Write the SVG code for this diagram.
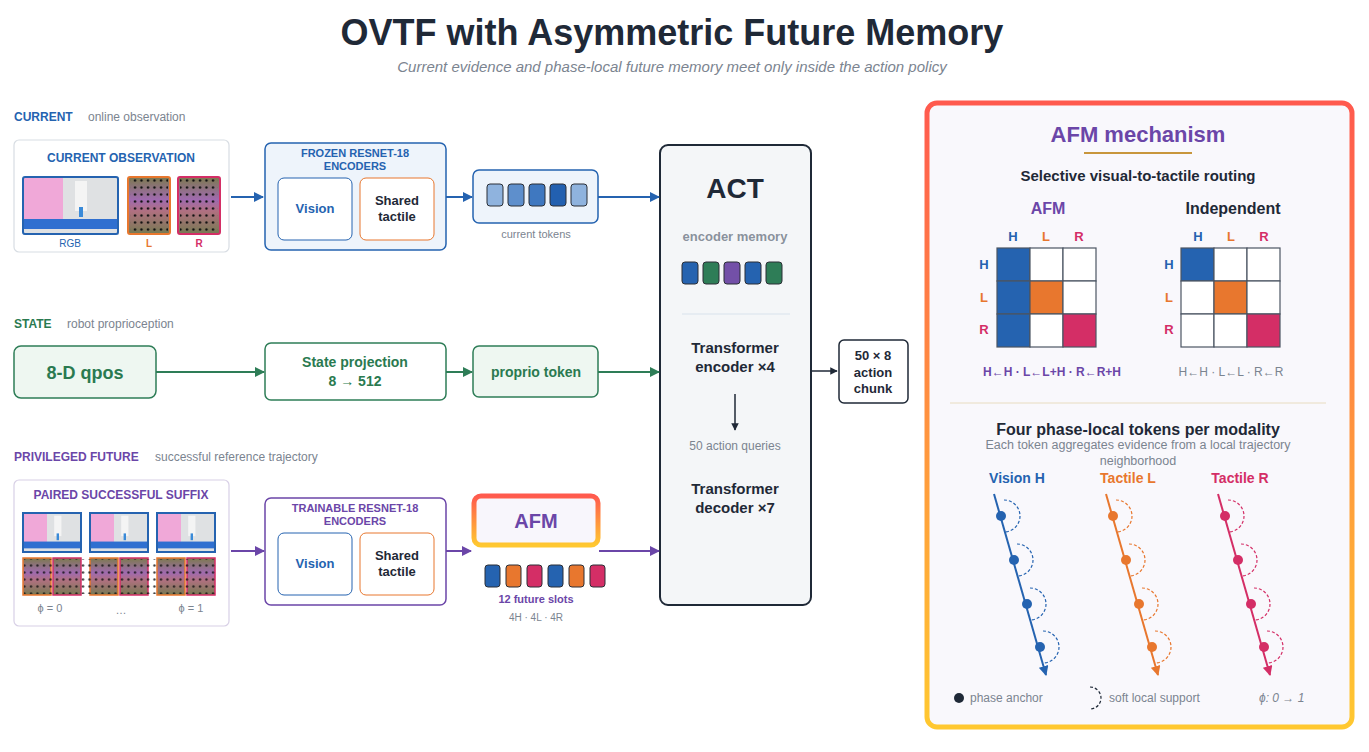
<svg xmlns="http://www.w3.org/2000/svg" width="1369" height="752" viewBox="0 0 1369 752">
<defs>
<style>
text{font-family:"Liberation Sans",Arial,sans-serif}
.b{font-weight:bold}
.blue{fill:#2563b0}.green{fill:#2a7a50}.purple{fill:#6b46a8}.orange{fill:#e8772e}.pink{fill:#d42e66}.gray{fill:#7b8490}.dark{fill:#1f2937}
.bl{stroke:#2563b0;stroke-width:2;fill:none}.gl{stroke:#2e7d57;stroke-width:2;fill:none}.pl{stroke:#6b46a8;stroke-width:2;fill:none}
.tok{stroke:#2b2f36;stroke-width:1}
.cell{stroke:#4b5563;stroke-width:1.2}
</style>
<marker id="ab" viewBox="0 0 10 10" refX="9" refY="5" markerWidth="5" markerHeight="5" orient="auto"><path d="M0,0L10,5L0,10z" fill="#2563b0"/></marker>
<marker id="ag" viewBox="0 0 10 10" refX="9" refY="5" markerWidth="5" markerHeight="5" orient="auto"><path d="M0,0L10,5L0,10z" fill="#2e7d57"/></marker>
<marker id="ap" viewBox="0 0 10 10" refX="9" refY="5" markerWidth="5" markerHeight="5" orient="auto"><path d="M0,0L10,5L0,10z" fill="#6b46a8"/></marker>
<marker id="ak" viewBox="0 0 10 10" refX="9" refY="5" markerWidth="5" markerHeight="5" orient="auto"><path d="M0,0L10,5L0,10z" fill="#1f2937"/></marker>
<marker id="to" viewBox="0 0 10 10" refX="9" refY="5" markerWidth="5" markerHeight="5" orient="auto"><path d="M0,0L10,5L0,10z" fill="#e8772e"/></marker>
<marker id="tp" viewBox="0 0 10 10" refX="9" refY="5" markerWidth="5" markerHeight="5" orient="auto"><path d="M0,0L10,5L0,10z" fill="#d42e66"/></marker>
<linearGradient id="tac" x1="0" y1="0" x2="0" y2="1"><stop offset="0" stop-color="#7c7a4e"/><stop offset="0.4" stop-color="#a06ab0"/><stop offset="0.6" stop-color="#b07080"/><stop offset="1" stop-color="#767a52"/></linearGradient>
<linearGradient id="fr" x1="0" y1="0" x2="0" y2="1"><stop offset="0" stop-color="#ff5a4e"/><stop offset="1" stop-color="#ffc830"/></linearGradient>
<pattern id="dots" width="6.5" height="7" patternUnits="userSpaceOnUse" x="2" y="2"><circle cx="3" cy="3.5" r="1.2" fill="#111"/></pattern>
<g id="rgb"><rect width="96" height="58" fill="#dfe1e3"/><rect x="0" y="0" width="40" height="44" fill="#f0a8d8"/><rect x="0" y="42" width="96" height="10" fill="#2f6fd0"/><rect x="52" y="4" width="12" height="30" fill="#f4f4f4"/><rect x="56" y="30" width="4" height="10" fill="#3a8ad8"/></g>
</defs>
<rect width="1369" height="752" fill="#ffffff"/>
<text x="672" y="45" text-anchor="middle" class="b dark" font-size="36">OVTF with Asymmetric Future Memory</text>
<text x="672" y="72" text-anchor="middle" class="gray" font-size="15" font-style="italic">Current evidence and phase-local future memory meet only inside the action policy</text>

<g id="current">
<text x="14" y="121" class="b blue" font-size="12">CURRENT</text><text x="88" y="121" class="gray" font-size="12">online observation</text>
<rect x="14" y="140" width="215" height="112" rx="5" fill="#fff" stroke="#d8dde3" stroke-width="1.2"/>
<text x="121" y="162" text-anchor="middle" class="b blue" font-size="12">CURRENT OBSERVATION</text>
<use href="#rgb" x="23" y="177"/><rect x="23" y="177" width="95" height="57" fill="none" stroke="#2563b0" stroke-width="2" rx="2"/>
<rect x="128" y="177" width="42" height="57" rx="2" fill="url(#tac)" stroke="#e8772e" stroke-width="2"/><rect x="130" y="179" width="38" height="53" fill="url(#dots)"/>
<rect x="178" y="177" width="42" height="57" rx="2" fill="url(#tac)" stroke="#d42e66" stroke-width="2"/><rect x="180" y="179" width="38" height="53" fill="url(#dots)"/>
<text x="70" y="247" text-anchor="middle" class="blue" font-size="10">RGB</text>
<text x="149" y="247" text-anchor="middle" class="b orange" font-size="10">L</text>
<text x="199" y="247" text-anchor="middle" class="b pink" font-size="10">R</text>
</g>
<g id="frozen">
<rect x="265" y="143" width="181" height="107" rx="6" fill="#eef4fb" stroke="#2563b0" stroke-width="1.5"/>
<text x="355" y="157" text-anchor="middle" class="b blue" font-size="11">FROZEN RESNET-18</text>
<text x="355" y="170" text-anchor="middle" class="b blue" font-size="11">ENCODERS</text>
<rect x="278" y="178" width="74" height="62" rx="6" fill="#fff" stroke="#2563b0"/><text x="315" y="213" text-anchor="middle" class="b blue" font-size="13">Vision</text>
<rect x="360" y="178" width="74" height="62" rx="6" fill="#fff" stroke="#e8772e"/><text x="397" y="205" text-anchor="middle" class="b dark" font-size="13">Shared</text><text x="397" y="221" text-anchor="middle" class="b dark" font-size="13">tactile</text>
</g>
<g id="curtokens">
<rect x="473" y="170" width="125" height="53" rx="6" fill="#eef4fb" stroke="#2563b0" stroke-width="1.5"/>
<rect x="487" y="184" width="16" height="22" rx="3" class="tok" fill="#8fb3de"/><rect x="508" y="184" width="16" height="22" rx="3" class="tok" fill="#5e8fcc"/><rect x="529" y="184" width="16" height="22" rx="3" class="tok" fill="#3f78c0"/><rect x="550" y="184" width="16" height="22" rx="3" class="tok" fill="#2260b0"/><rect x="571" y="184" width="16" height="22" rx="3" class="tok" fill="#8fb3de"/>
<text x="536" y="238" text-anchor="middle" class="gray" font-size="11">current tokens</text>
</g>

<g id="state">
<text x="14" y="328" class="b green" font-size="12">STATE</text><text x="67" y="328" class="gray" font-size="12">robot proprioception</text>
<rect x="14" y="346" width="142" height="52" rx="7" fill="#eef7f1" stroke="#2e7d57" stroke-width="1.5"/><text x="85" y="379" text-anchor="middle" class="b green" font-size="18">8-D qpos</text>
</g>
<g id="stateproj"><rect x="265" y="343" width="181" height="57" rx="6" fill="#fff" stroke="#2e7d57" stroke-width="1.5"/><text x="355" y="367" text-anchor="middle" class="b green" font-size="14">State projection</text><text x="355" y="386" text-anchor="middle" class="b green" font-size="14">8 → 512</text></g>
<g id="proprio"><rect x="473" y="346" width="125" height="51" rx="6" fill="#eef7f1" stroke="#2e7d57" stroke-width="1.5"/><text x="536" y="377" text-anchor="middle" class="b green" font-size="14">proprio token</text></g>

<g id="future">
<text x="14" y="461" class="b purple" font-size="12">PRIVILEGED FUTURE</text><text x="155" y="461" class="gray" font-size="12">successful reference trajectory</text>
<rect x="14" y="480" width="215" height="146" rx="5" fill="#fff" stroke="#d8d0e6" stroke-width="1.2"/>
<text x="121" y="499" text-anchor="middle" class="b purple" font-size="12">PAIRED SUCCESSFUL SUFFIX</text>
<g transform="translate(23,513) scale(0.6,0.68)"><use href="#rgb"/></g><rect x="23" y="513" width="58" height="39" fill="none" stroke="#2563b0" stroke-width="2"/>
<g transform="translate(90,513) scale(0.6,0.68)"><use href="#rgb"/></g><rect x="90" y="513" width="58" height="39" fill="none" stroke="#2563b0" stroke-width="2"/>
<g transform="translate(157,513) scale(0.6,0.68)"><use href="#rgb"/></g><rect x="157" y="513" width="58" height="39" fill="none" stroke="#2563b0" stroke-width="2"/>
<g>
<rect x="23" y="558" width="28" height="37" fill="url(#tac)" stroke="#e8772e" stroke-width="1.5"/><rect x="53" y="558" width="28" height="37" fill="url(#tac)" stroke="#d42e66" stroke-width="1.5"/>
<rect x="90" y="558" width="28" height="37" fill="url(#tac)" stroke="#e8772e" stroke-width="1.5"/><rect x="120" y="558" width="28" height="37" fill="url(#tac)" stroke="#d42e66" stroke-width="1.5"/>
<rect x="157" y="558" width="28" height="37" fill="url(#tac)" stroke="#e8772e" stroke-width="1.5"/><rect x="187" y="558" width="28" height="37" fill="url(#tac)" stroke="#d42e66" stroke-width="1.5"/>
<rect x="24" y="559" width="191" height="35" fill="url(#dots)" opacity="0.8"/>
</g>
<text x="50" y="612" text-anchor="middle" class="gray" font-size="11">ϕ = 0</text><text x="121" y="614" text-anchor="middle" class="gray" font-size="11">…</text><text x="191" y="612" text-anchor="middle" class="gray" font-size="11">ϕ = 1</text>
</g>
<g id="trainable">
<rect x="265" y="498" width="181" height="107" rx="6" fill="#fff" stroke="#6b46a8" stroke-width="1.5"/>
<text x="355" y="512" text-anchor="middle" class="b purple" font-size="11">TRAINABLE RESNET-18</text>
<text x="355" y="525" text-anchor="middle" class="b purple" font-size="11">ENCODERS</text>
<rect x="278" y="533" width="74" height="62" rx="6" fill="#fff" stroke="#2563b0"/><text x="315" y="568" text-anchor="middle" class="b blue" font-size="13">Vision</text>
<rect x="360" y="533" width="74" height="62" rx="6" fill="#fff" stroke="#e8772e"/><text x="397" y="560" text-anchor="middle" class="b dark" font-size="13">Shared</text><text x="397" y="576" text-anchor="middle" class="b dark" font-size="13">tactile</text>
</g>
<g id="afm">
<rect x="474" y="496" width="124" height="49" rx="7" fill="#f8f6fc" stroke="url(#fr)" stroke-width="5"/>
<text x="536" y="528" text-anchor="middle" class="b purple" font-size="20">AFM</text>
<rect x="485" y="565" width="15" height="22" rx="3" class="tok" fill="#2563b0"/><rect x="506" y="565" width="15" height="22" rx="3" class="tok" fill="#e8772e"/><rect x="527" y="565" width="15" height="22" rx="3" class="tok" fill="#d42e66"/><rect x="548" y="565" width="15" height="22" rx="3" class="tok" fill="#2563b0"/><rect x="569" y="565" width="15" height="22" rx="3" class="tok" fill="#e8772e"/><rect x="590" y="565" width="15" height="22" rx="3" class="tok" fill="#d42e66"/>
<text x="536" y="603" text-anchor="middle" class="b purple" font-size="11">12 future slots</text>
<text x="536" y="621" text-anchor="middle" class="gray" font-size="10">4H · 4L · 4R</text>
</g>

<g id="act">
<rect x="660" y="145" width="151" height="460" rx="8" fill="#f4f6f8" stroke="#1f2937" stroke-width="2"/>
<text x="735" y="198" text-anchor="middle" class="b dark" font-size="28">ACT</text>
<text x="735" y="241" text-anchor="middle" class="gray b" font-size="13" fill-opacity="0.9">encoder memory</text>
<rect x="682" y="262" width="16" height="22" rx="3" class="tok" fill="#2563b0"/><rect x="703" y="262" width="16" height="22" rx="3" class="tok" fill="#2e7d57"/><rect x="724" y="262" width="16" height="22" rx="3" class="tok" fill="#7350a8"/><rect x="745" y="262" width="16" height="22" rx="3" class="tok" fill="#2563b0"/><rect x="766" y="262" width="16" height="22" rx="3" class="tok" fill="#2e7d57"/>
<line x1="682" y1="314" x2="790" y2="314" stroke="#d8e2ec"/>
<text x="735" y="353" text-anchor="middle" class="b dark" font-size="15">Transformer</text><text x="735" y="372" text-anchor="middle" class="b dark" font-size="15">encoder ×4</text>
<line x1="735" y1="394" x2="735" y2="430" stroke="#1f2937" stroke-width="1.5" marker-end="url(#ak)"/>
<text x="735" y="450" text-anchor="middle" class="gray" font-size="12">50 action queries</text>
<text x="735" y="494" text-anchor="middle" class="b dark" font-size="15">Transformer</text><text x="735" y="513" text-anchor="middle" class="b dark" font-size="15">decoder ×7</text>
</g>
<g id="chunk"><rect x="839" y="340" width="69" height="63" rx="5" fill="#fff" stroke="#1f2937" stroke-width="1.5"/><text x="873" y="360" text-anchor="middle" class="b dark" font-size="13">50 × 8</text><text x="873" y="377" text-anchor="middle" class="b dark" font-size="13">action</text><text x="873" y="393" text-anchor="middle" class="b dark" font-size="13">chunk</text></g>

<g id="connectors">
<line x1="231" y1="197" x2="263" y2="197" class="bl" marker-end="url(#ab)"/>
<line x1="446" y1="197" x2="472" y2="197" class="bl" marker-end="url(#ab)"/>
<line x1="598" y1="197" x2="659" y2="197" class="bl" marker-end="url(#ab)"/>
<line x1="156" y1="372" x2="264" y2="372" class="gl" marker-end="url(#ag)"/>
<line x1="446" y1="372" x2="472" y2="372" class="gl" marker-end="url(#ag)"/>
<line x1="598" y1="372" x2="659" y2="372" class="gl" marker-end="url(#ag)"/>
<line x1="231" y1="551" x2="264" y2="551" class="pl" marker-end="url(#ap)"/>
<line x1="446" y1="551" x2="471" y2="551" class="pl" marker-end="url(#ap)"/>
<line x1="599" y1="551" x2="659" y2="551" class="pl" marker-end="url(#ap)"/>
<line x1="812" y1="371" x2="837" y2="371" stroke="#1f2937" stroke-width="1.5" marker-end="url(#ak)"/>
</g>

<g id="panel">
<rect x="927" y="103" width="425" height="624" rx="10" fill="#f9f8fc" stroke="url(#fr)" stroke-width="5"/>
<text x="1138" y="142" text-anchor="middle" class="b purple" font-size="22">AFM mechanism</text>
<line x1="1084" y1="153" x2="1192" y2="153" stroke="#c8963c" stroke-width="2"/>
<text x="1138" y="181" text-anchor="middle" class="b dark" font-size="15">Selective visual-to-tactile routing</text>
<text x="1048" y="214" text-anchor="middle" class="b purple" font-size="16">AFM</text>
<text x="1233" y="214" text-anchor="middle" class="b dark" font-size="16">Independent</text>
<g font-size="13" class="b">
<text x="1013" y="241" text-anchor="middle" class="blue">H</text><text x="1046" y="241" text-anchor="middle" class="orange">L</text><text x="1079" y="241" text-anchor="middle" class="pink">R</text>
<text x="984" y="269" text-anchor="middle" class="blue">H</text><text x="984" y="302" text-anchor="middle" class="orange">L</text><text x="984" y="334" text-anchor="middle" class="pink">R</text>
<text x="1198" y="241" text-anchor="middle" class="blue">H</text><text x="1231" y="241" text-anchor="middle" class="orange">L</text><text x="1264" y="241" text-anchor="middle" class="pink">R</text>
<text x="1169" y="269" text-anchor="middle" class="blue">H</text><text x="1169" y="302" text-anchor="middle" class="orange">L</text><text x="1169" y="334" text-anchor="middle" class="pink">R</text>
</g>
<g class="cell">
<rect x="997" y="248" width="33" height="33" fill="#2563b0"/><rect x="1030" y="248" width="33" height="33" fill="#fff"/><rect x="1063" y="248" width="33" height="33" fill="#fff"/>
<rect x="997" y="281" width="33" height="33" fill="#2563b0"/><rect x="1030" y="281" width="33" height="33" fill="#e8772e"/><rect x="1063" y="281" width="33" height="33" fill="#fff"/>
<rect x="997" y="314" width="33" height="33" fill="#2563b0"/><rect x="1030" y="314" width="33" height="33" fill="#fff"/><rect x="1063" y="314" width="33" height="33" fill="#d42e66"/>
<rect x="1181" y="248" width="33" height="33" fill="#2563b0"/><rect x="1214" y="248" width="33" height="33" fill="#fff"/><rect x="1247" y="248" width="33" height="33" fill="#fff"/>
<rect x="1181" y="281" width="33" height="33" fill="#fff"/><rect x="1214" y="281" width="33" height="33" fill="#e8772e"/><rect x="1247" y="281" width="33" height="33" fill="#fff"/>
<rect x="1181" y="314" width="33" height="33" fill="#fff"/><rect x="1214" y="314" width="33" height="33" fill="#fff"/><rect x="1247" y="314" width="33" height="33" fill="#d42e66"/>
</g>
<text x="1052" y="376" text-anchor="middle" class="b purple" font-size="12">H←H · L←L+H · R←R+H</text>
<text x="1231" y="376" text-anchor="middle" class="gray" font-size="12">H←H · L←L · R←R</text>
<line x1="950" y1="403" x2="1326" y2="403" stroke="#e8dcc0"/>
<text x="1138" y="435" text-anchor="middle" class="b dark" font-size="16">Four phase-local tokens per modality</text>
<text x="1138" y="449" text-anchor="middle" class="gray" font-size="12.5">Each token aggregates evidence from a local trajectory</text>
<text x="1138" y="465" text-anchor="middle" class="gray" font-size="12.5">neighborhood</text>
<text x="1017" y="483" text-anchor="middle" class="b blue" font-size="14">Vision H</text>
<text x="1128" y="483" text-anchor="middle" class="b orange" font-size="14">Tactile L</text>
<text x="1240" y="483" text-anchor="middle" class="b pink" font-size="14">Tactile R</text>
<g id="trajH" stroke="#2563b0" fill="#2563b0">
<line x1="994" y1="494" x2="1046" y2="675" stroke-width="2" marker-end="url(#ab)"/>
<circle cx="1001" cy="516" r="5" stroke="none"/><circle cx="1014" cy="560" r="5" stroke="none"/><circle cx="1027" cy="604" r="5" stroke="none"/><circle cx="1040" cy="647" r="5" stroke="none"/>
<g fill="none" stroke-width="1.2" stroke-dasharray="3 2"><path d="M1004,500A16,16 0 0 1 1004,532"/><path d="M1017,544A16,16 0 0 1 1017,576"/><path d="M1030,588A16,16 0 0 1 1030,620"/><path d="M1043,631A16,16 0 0 1 1043,663"/></g>
</g>
<g id="trajL" stroke="#e8772e" fill="#e8772e">
<line x1="1106" y1="494" x2="1158" y2="675" stroke-width="2" marker-end="url(#to)"/>
<circle cx="1113" cy="516" r="5" stroke="none"/><circle cx="1126" cy="560" r="5" stroke="none"/><circle cx="1139" cy="604" r="5" stroke="none"/><circle cx="1152" cy="647" r="5" stroke="none"/>
<g fill="none" stroke-width="1.2" stroke-dasharray="3 2"><path d="M1116,500A16,16 0 0 1 1116,532"/><path d="M1129,544A16,16 0 0 1 1129,576"/><path d="M1142,588A16,16 0 0 1 1142,620"/><path d="M1155,631A16,16 0 0 1 1155,663"/></g>
</g>
<g id="trajR" stroke="#d42e66" fill="#d42e66">
<line x1="1218" y1="494" x2="1270" y2="675" stroke-width="2" marker-end="url(#tp)"/>
<circle cx="1225" cy="516" r="5" stroke="none"/><circle cx="1238" cy="560" r="5" stroke="none"/><circle cx="1251" cy="604" r="5" stroke="none"/><circle cx="1264" cy="647" r="5" stroke="none"/>
<g fill="none" stroke-width="1.2" stroke-dasharray="3 2"><path d="M1228,500A16,16 0 0 1 1228,532"/><path d="M1241,544A16,16 0 0 1 1241,576"/><path d="M1254,588A16,16 0 0 1 1254,620"/><path d="M1267,631A16,16 0 0 1 1267,663"/></g>
</g>
<circle cx="959" cy="698" r="5" fill="#1f2937"/><text x="970" y="702" class="gray" font-size="12">phase anchor</text>
<path d="M1090,687A11,11 0 0 1 1090,709" fill="none" stroke="#1f2937" stroke-width="1.2" stroke-dasharray="3 2"/><text x="1109" y="702" class="gray" font-size="12">soft local support</text>
<text x="1259" y="702" class="gray" font-size="12" font-style="italic">ϕ: 0 → 1</text>
</g>
</svg>
